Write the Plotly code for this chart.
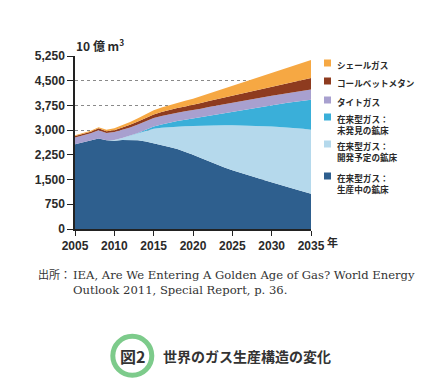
import plotly.graph_objects as go

years = list(range(2005, 2036))
producing = [2575, 2630, 2690, 2750, 2690, 2680, 2700, 2705, 2695, 2655, 2605, 2555, 2490, 2425, 2345, 2255,
             2155, 2055, 1955, 1865, 1780, 1700, 1630, 1560, 1490, 1415, 1345, 1280, 1210, 1140, 1070]
to_develop = [0, 0, 0, 0, 0, 20, 60, 120, 205, 320, 435, 520, 605, 680, 770, 870,
              980, 1090, 1195, 1285, 1370, 1445, 1510, 1570, 1630, 1695, 1750, 1800, 1850, 1900, 1940]
undiscovered = [0, 0, 0, 0, 0, 0, 0, 5, 15, 35, 70, 100, 135, 170, 200, 230,
                265, 300, 335, 370, 405, 450, 495, 545, 595, 645, 700, 750, 800, 860, 915]
tight = [205, 210, 215, 245, 220, 240, 245, 250, 255, 255, 255, 255, 255, 255, 255, 250,
         250, 255, 255, 260, 265, 265, 270, 275, 280, 285, 290, 295, 300, 300, 305]
coalbed = [40, 40, 45, 60, 60, 60, 70, 80, 90, 100, 110, 120, 130, 140, 150, 160,
           175, 185, 200, 210, 225, 240, 250, 260, 270, 280, 295, 310, 320, 335, 350]
shale = [25, 25, 30, 35, 45, 55, 70, 85, 100, 115, 125, 135, 145, 160, 175, 190,
         210, 230, 250, 275, 300, 325, 350, 375, 400, 425, 450, 470, 495, 520, 550]

series = [
    ("在来型ガス：<br>生産中の鉱床", producing, "#2E5F8E"),
    ("在来型ガス：<br>開発予定の鉱床", to_develop, "#B5D9EC"),
    ("在来型ガス：<br>未発見の鉱床", undiscovered, "#3AAFD9"),
    ("タイトガス", tight, "#A8A0CF"),
    ("コールベットメタン", coalbed, "#8E3B1F"),
    ("シェールガス", shale, "#F6A843"),
]

y_ticks = [0, 750, 1500, 2250, 3000, 3750, 4500, 5250]
y_ticklabels = ["0", "750", "1,500", "2,250", "3,000", "3,750", "4,500", "5,250"]
x_ticks = [2005, 2010, 2015, 2020, 2025, 2030, 2035]

# page has an 8px body margin; figure laid out in reference pixel space shifted by it
OFF = 8
W, H = 431 - OFF, 392 - OFF
L, R, T, B = 75, 311, 56, 229

def px(x):
    return (x - L) / (R - L)

def py(y):
    return (B - y) / (B - T)

fig = go.Figure()
for name, vals, col in series:
    fig.add_trace(go.Scatter(x=years, y=vals, name=name, stackgroup="one", mode="lines",
                             line=dict(width=0, color=col), fillcolor=col, showlegend=False))

txt = "#2a2a2a"
fig.update_layout(
    width=W, height=H, margin=dict(l=L - OFF, r=431 - R, t=T - OFF, b=392 - B),
    paper_bgcolor="white", plot_bgcolor="white",
    xaxis=dict(range=[2005, 2035], tickvals=x_ticks, showgrid=False, zeroline=False,
               showline=True, linecolor="#222", linewidth=1.5, ticks="outside", ticklen=5,
               tickcolor="#222", tickfont=dict(family="Liberation Sans", size=12, color=txt, weight="bold")),
    yaxis=dict(range=[0, 5250], tickvals=y_ticks, ticktext=y_ticklabels, showgrid=True,
               gridcolor="#8a8a8a", griddash="dot", gridwidth=1, zeroline=False,
               showline=True, linecolor="#222", linewidth=1.5, ticks="outside", ticklen=6,
               tickcolor="#222", tickfont=dict(family="Liberation Sans", size=12, color=txt, weight="bold")),
    font=dict(family="Liberation Sans", color=txt),
)

annotations = []
shapes = []
annotations.append(dict(x=px(74), y=py(45), xref="paper", yref="paper", text="10 億 m<sup>3</sup>",
                        showarrow=False, xanchor="left", yanchor="middle",
                        font=dict(family="Noto Sans CJK JP", size=12, color=txt, weight="bold")))
annotations.append(dict(x=px(325), y=py(242), xref="paper", yref="paper", text="年",
                        showarrow=False, xanchor="left", yanchor="middle",
                        font=dict(family="Noto Sans CJK JP", size=11, color=txt, weight="bold")))

legend_items = [
    ("シェールガス", "#F6A843", 63),
    ("コールベットメタン", "#8E3B1F", 81),
    ("タイトガス", "#A8A0CF", 100),
    ("在来型ガス：<br>未発見の鉱床", "#3AAFD9", 117),
    ("在来型ガス：<br>開発予定の鉱床", "#B5D9EC", 144),
    ("在来型ガス：<br>生産中の鉱床", "#2E5F8E", 176),
]
for label, col, yc in legend_items:
    shapes.append(dict(type="rect", xref="paper", yref="paper", x0=px(324), x1=px(331),
                       y0=py(yc + 3.5), y1=py(yc - 3.5), fillcolor=col, line=dict(width=0)))
    annotations.append(dict(x=px(335), y=py(yc - 6), xref="paper", yref="paper", text=label,
                            showarrow=False, xanchor="left", yanchor="top", align="left",
                            font=dict(family="Noto Sans CJK JP", size=8.6, color=txt, weight="bold")))

annotations.append(dict(x=px(36), y=py(274), xref="paper", yref="paper", text="出所：",
                        showarrow=False, xanchor="left", yanchor="middle",
                        font=dict(family="Noto Sans CJK JP", size=11, color="#333")))
annotations.append(dict(x=px(71), y=py(266), xref="paper", yref="paper",
                        text="IEA, Are We Entering A Golden Age of Gas? World Energy<br>Outlook 2011, Special Report, p. 36.",
                        showarrow=False, xanchor="left", yanchor="top", align="left",
                        font=dict(family="DejaVu Serif", size=11.6, color="#333")))

cx, cy, rr = 132.3, 355.7, 19.5
shapes.append(dict(type="circle", xref="paper", yref="paper", x0=px(cx - rr), x1=px(cx + rr),
                   y0=py(cy + rr), y1=py(cy - rr), line=dict(color="#7DCB8B", width=5), fillcolor="white"))
annotations.append(dict(x=px(cx), y=py(cy), xref="paper", yref="paper", text="図2",
                        showarrow=False, xanchor="center", yanchor="middle",
                        font=dict(family="Noto Sans CJK JP", size=16, color="#333", weight="bold")))
annotations.append(dict(x=px(161), y=py(cy), xref="paper", yref="paper", text="世界のガス生産構造の変化",
                        showarrow=False, xanchor="left", yanchor="middle",
                        font=dict(family="Noto Sans CJK JP", size=14, color="#333", weight="bold")))

fig.update_layout(annotations=annotations, shapes=shapes)
fig.write_html("out.html")
